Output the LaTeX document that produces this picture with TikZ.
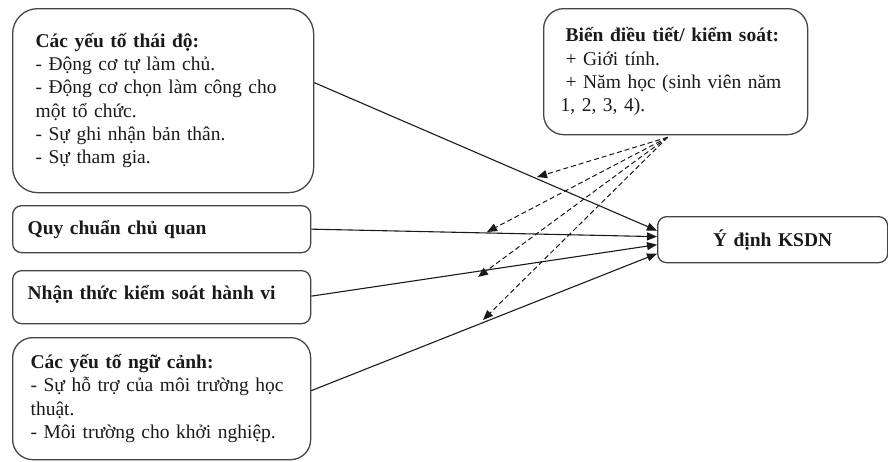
\documentclass[tikz,border=0pt]{standalone}
\usepackage{fontspec}
\setmainfont{Liberation Serif}
\usetikzlibrary{arrows.meta}
\definecolor{edge}{HTML}{454545}
\definecolor{ink}{HTML}{1A1A1A}
\tikzset{
  box/.style={draw=edge, line width=1.3pt, anchor=north west, align=left,
    font=\fontsize{19.5}{23.3}\selectfont, text=ink, inner ysep=0pt},
  link/.style={draw=ink, line width=1.1pt, -{Triangle[length=10pt,width=8pt]}},
  mod/.style={draw=ink, line width=1pt, dash pattern=on 5pt off 3pt,
    -{Triangle[length=10pt,width=8pt]}}
}
\begin{document}
\begin{tikzpicture}[x=1pt,y=-1pt]
\useasboundingbox (0,0) rectangle (888,461);

\node[box, rounded corners=25pt, inner xsep=23pt, text width=255pt, minimum height=184pt] (att) at (12,8)
 {\textbf{Các yếu tố thái độ:}\\- Động cơ tự làm chủ.\\- Động cơ chọn làm công cho\\một tổ chức.\\- Sự ghi nhận bản thân.\\- Sự tham gia.};

\node[box, rounded corners=20pt, inner xsep=17pt, text width=230pt, minimum height=126pt] (mod) at (543,8)
 {\hspace{5pt}\textbf{Biến điều tiết/ kiểm soát:}\\\hspace{5pt}+ Giới tính.\\\hspace{5pt}+ Năm học (sinh viên năm\\1, 2, 3, 4).};

\node[box, rounded corners=9pt, inner xsep=15pt, text width=268pt, minimum height=47pt] (sub) at (12,205)
 {\textbf{Quy chuẩn chủ quan}};

\node[box, rounded corners=9pt, inner xsep=15pt, text width=268pt, minimum height=53pt] (pbc) at (12,270)
 {\textbf{Nhận thức kiểm soát hành vi}\\[-14pt]\mbox{}};

\node[box, rounded corners=20pt, inner xsep=18pt, text width=262pt, minimum height=122pt] (ctx) at (12,337)
 {\textbf{Các yếu tố ngữ cảnh:}\\- Sự hỗ trợ của môi trường học\\thuật.\\- Môi trường cho khởi nghiệp.};

\node[box, rounded corners=9pt, align=center, inner xsep=0pt, text width=230pt, minimum height=46pt] (ydk) at (657,216)
 {\textbf{Ý định KSDN}};

% solid connectors
\draw[link] ([yshift=18pt]att.east) -- ([yshift=9pt]ydk.west);
\draw[link] (sub.east) -- ([yshift=3pt]ydk.west);
\draw[link] ([yshift=1pt]pbc.east) -- ([yshift=-5pt]ydk.west);
\draw[link] ([yshift=8pt]ctx.east) -- ([yshift=-14pt]ydk.west);

% moderator dashed connectors
\coordinate (m) at ([xshift=-8pt,yshift=-2pt]mod.south);
\coordinate (d1) at (537,177);
\coordinate (d2) at (487,232);
\coordinate (d3) at (478,277);
\coordinate (d4) at (483,320);
\draw[mod] (m) -- (d1);
\draw[mod] (m) -- (d2);
\draw[mod] (m) -- (d3);
\draw[mod] (m) -- (d4);
\end{tikzpicture}
\end{document}
